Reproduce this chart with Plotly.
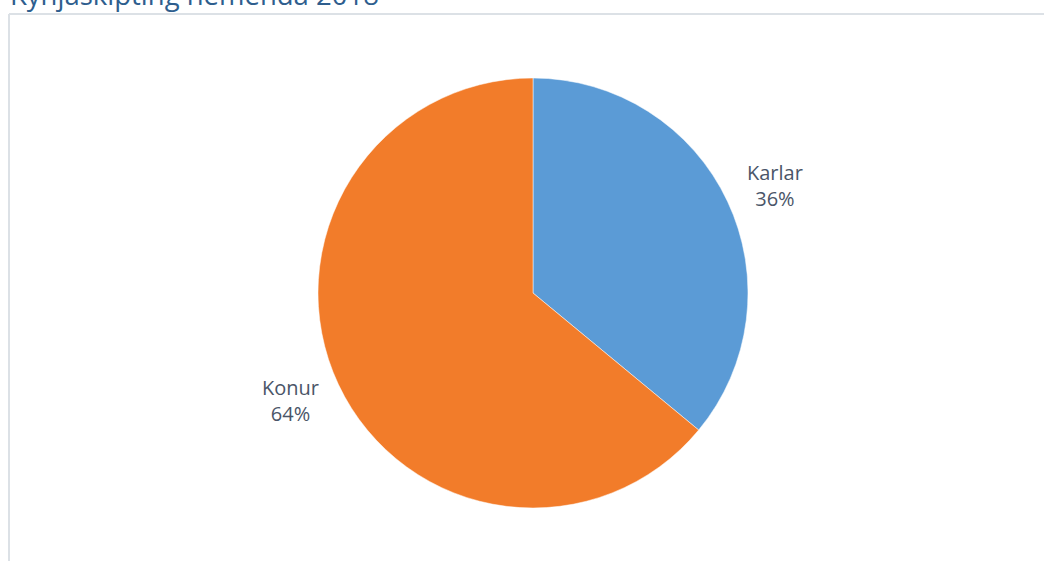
import math
import plotly.graph_objects as go

labels = ["Karlar", "Konur"]
values = [36, 64]
colors = ["#5B9BD6", "#F27C2A"]
title_text = "Kynjaskipting nemenda 2018"

W, H = 1044, 561

fig = go.Figure()
fig.add_trace(go.Pie(
    labels=labels, values=values, sort=False, direction="clockwise", rotation=0,
    marker=dict(colors=colors, line=dict(color="#FFFFFF", width=0.5)),
    textinfo="none", hoverinfo="label+percent", showlegend=False,
    domain=dict(x=[318 / W, 748 / W], y=[53 / H, 483 / H]),
))

# outside labels placed near the mid-angle of each slice
cx, cy, rlab = 533, 293, 265
total = sum(values)
cum = 0
annots = []
for lab, v in zip(labels, values):
    mid = (cum + v / 2) / total * 2 * math.pi + math.radians(1.3)
    cum += v
    px = cx + rlab * math.sin(mid)
    py = cy - rlab * math.cos(mid)
    pct = round(v / total * 100)
    annots.append(dict(
        text=f"{lab}<br>{pct}%", x=px / W, y=1 - py / H, xref="paper", yref="paper",
        showarrow=False, xanchor="center", yanchor="middle",
        font=dict(family="Open Sans", size=20, color="#4A5568"),
    ))

annots.append(dict(
    text=title_text, x=8 / W, y=1 - 15 / H, xref="paper", yref="paper",
    xanchor="left", yanchor="bottom", showarrow=False,
    font=dict(family="Open Sans", size=27.5, color="#2E5E8E"),
))

fig.update_layout(
    width=W, height=H, margin=dict(l=0, r=0, t=0, b=0),
    paper_bgcolor="white", plot_bgcolor="white",
    annotations=annots,
    shapes=[
        dict(type="line", xref="paper", yref="paper", x0=9 / W, x1=1, y0=1 - 14 / H, y1=1 - 14 / H,
             line=dict(color="#DCE1E6", width=2)),
        dict(type="line", xref="paper", yref="paper", x0=9 / W, x1=9 / W, y0=0, y1=1 - 14 / H,
             line=dict(color="#DCE1E6", width=2)),
    ],
)

fig.write_html("out.html", config={"displayModeBar": False},
               post_script="document.body.style.margin='0';document.body.style.overflow='hidden';")
